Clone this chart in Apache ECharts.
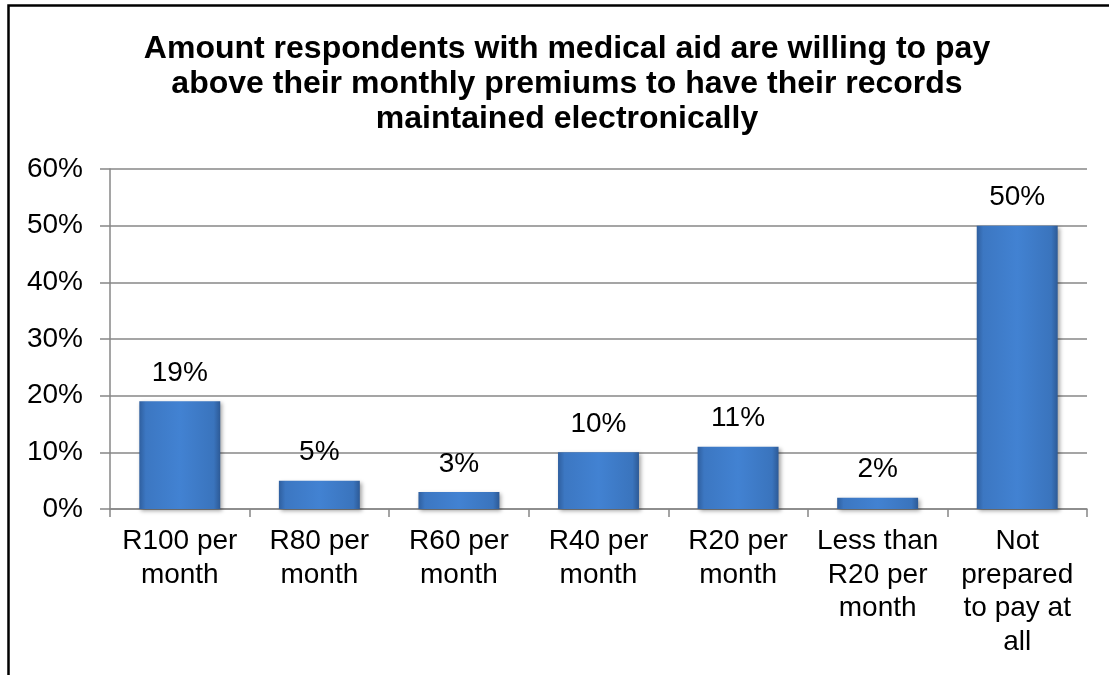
<!DOCTYPE html>
<html>
<head>
<meta charset="utf-8">
<script src="https://cdn.jsdelivr.net/npm/echarts@6/dist/echarts.min.js"></script>
<style>
html,body{margin:0;padding:0;background:#fff;}
#c{width:1109px;height:675px;}
</style>
</head>
<body>
<div id="c"></div>
<script>
var titleText = 'Amount respondents with medical aid are willing to pay\nabove their monthly premiums to have their records\nmaintained electronically';
var categories = ['R100 per\nmonth', 'R80 per\nmonth', 'R60 per\nmonth', 'R40 per\nmonth', 'R20 per\nmonth', 'Less than\nR20 per\nmonth', 'Not\nprepared\nto pay at\nall'];
var values = [19, 5, 3, 10, 11, 2, 50];
var yTicks = {min: 0, max: 60, interval: 10};

var FONT = '"Liberation Sans", Arial, sans-serif';
var chart = echarts.init(document.getElementById('c'), null, {renderer: 'canvas'});
chart.setOption({
  animation: false,
  backgroundColor: '#fff',
  title: {
    text: titleText,
    left: 562,
    top: 26.5,
    textAlign: 'center',
    textStyle: {fontFamily: FONT, fontSize: 32, fontWeight: 'bold', color: '#000', lineHeight: 35}
  },
  graphic: [{
    type: 'polyline',
    shape: {points: [[8.5, 680], [8.5, 5.5], [1115, 5.5]]},
    style: {stroke: '#000', lineWidth: 2.5, fill: null},
    silent: true
  }],
  grid: {left: 110, right: 22, top: 169, bottom: 166, containLabel: false},
  xAxis: {
    type: 'category',
    data: categories,
    axisLine: {show: true, lineStyle: {color: '#878787', width: 1.5}},
    axisTick: {show: true, length: 8, lineStyle: {color: '#878787', width: 1.5}},
    axisLabel: {fontFamily: FONT, fontSize: 28, color: '#000', lineHeight: 33.5, margin: 16, interval: 0}
  },
  yAxis: {
    type: 'value',
    min: yTicks.min, max: yTicks.max, interval: yTicks.interval,
    axisLine: {show: true, lineStyle: {color: '#878787', width: 1.5}},
    axisTick: {show: true, length: 10, lineStyle: {color: '#878787', width: 1.5}},
    axisLabel: {fontFamily: FONT, fontSize: 28, color: '#000', margin: 27, formatter: '{value}%'},
    splitLine: {show: true, lineStyle: {color: '#878787', width: 1.5}}
  },
  series: [{
    type: 'bar',
    data: values,
    barCategoryGap: '42%',
    itemStyle: {
      color: new echarts.graphic.LinearGradient(0, 0, 1, 0, [
        {offset: 0, color: '#2f5f9f'},
        {offset: 0.08, color: '#3c77c2'},
        {offset: 0.5, color: '#4282d2'},
        {offset: 0.92, color: '#3a74bd'},
        {offset: 1, color: '#2d5a96'}
      ]),
      shadowColor: 'rgba(0,0,0,0.35)',
      shadowBlur: 4,
      shadowOffsetX: 2,
      shadowOffsetY: 2
    },
    label: {
      show: true, position: 'top', distance: 14,
      fontFamily: FONT, fontSize: 28, color: '#000',
      formatter: '{c}%'
    }
  }]
});
</script>
</body>
</html>
